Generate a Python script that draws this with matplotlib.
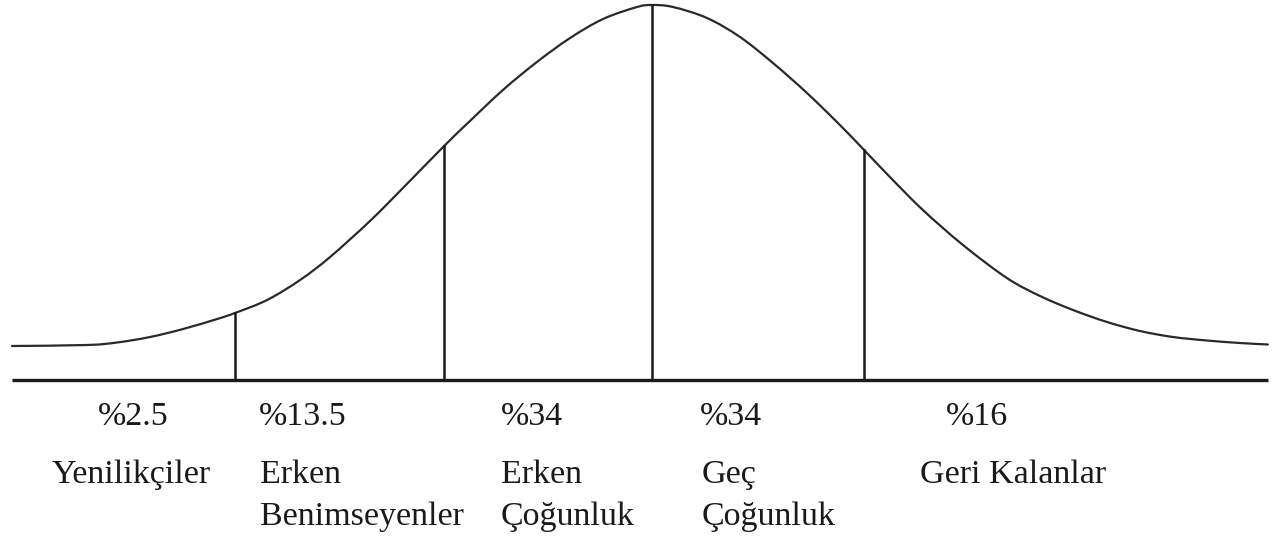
"""Diffusion of innovations bell curve (Rogers adopter categories), Turkish labels."""
import numpy as np
import matplotlib
matplotlib.use("Agg")
import matplotlib.pyplot as plt
from matplotlib.path import Path
from matplotlib.patches import PathPatch

# curve: x in std-devs from the centre, y = height above the baseline
curve_x = [-3.048, -2.690, -2.548, -2.390, -2.233, -2.071, -1.986, -1.833, -1.676, -1.533,
           -1.343, -1.186, -0.990, -0.867, -0.710, -0.548, -0.390, -0.233, -0.071, 0.000,
           0.100, 0.262, 0.419, 0.576, 0.738, 0.895, 1.010, 1.133, 1.290, 1.481,
           1.690, 1.848, 2.005, 2.167, 2.324, 2.481, 2.643, 2.800, 2.933]
curve_y = [34, 35, 37.5, 43, 51, 61, 67, 80, 100, 123,
           159, 192, 234, 259, 290, 318, 342, 361, 373, 375,
           373, 362, 343, 317, 287, 255, 230, 203, 170, 135,
           102, 84, 70, 58, 49, 43, 39.5, 37, 35.5]

divider_x = [-1.986, -0.990, 0.000, 1.010]
divider_top = [67, 234, 375, 230]

pct_labels = ["%2.5", "%13.5", "%34", "%34", "%16"]
pct_x = [-2.64, -1.87, -0.72, 0.23, 1.40]
group_labels = ["Yenilikçiler", "Erken\nBenimseyenler", "Erken\nÇoğunluk", "Geç\nÇoğunluk", "Geri Kalanlar"]
group_x = [-2.857, -1.867, -0.72, 0.238, 1.276]

INK = "#1a1a1a"
FONT = "Liberation Serif"
FS = 24.5


def smooth_path(xs, ys):
    # Catmull-Rom through the read points, expressed as cubic Beziers
    p = np.column_stack([xs, ys]).astype(float)
    ext = np.vstack([p[0], p, p[-1]])
    verts, codes = [p[0]], [Path.MOVETO]
    for i in range(1, len(ext) - 2):
        c1 = ext[i] + (ext[i + 1] - ext[i - 1]) / 6
        c2 = ext[i + 1] - (ext[i + 2] - ext[i]) / 6
        verts += [c1, c2, ext[i + 1]]
        codes += [Path.CURVE4] * 3
    return Path(verts, codes)


fig = plt.figure(figsize=(12.79, 5.42), dpi=100)
ax = fig.add_axes([0, 0, 1, 1])
ax.set_xlim(-3.105, 2.986)
ax.set_ylim(-162, 380)
ax.axis("off")

ax.add_patch(PathPatch(smooth_path(curve_x, curve_y), fill=False, edgecolor="#2a2a2a",
                       lw=1.6, capstyle="round"))
ax.plot([curve_x[0], curve_x[-1]], [0, 0], color=INK, lw=2.4, solid_capstyle="butt")
for x, top in zip(divider_x, divider_top):
    ax.plot([x, x], [0, top], color=INK, lw=1.8)

for x, s in zip(pct_x, pct_labels):
    ax.text(x, -45, s, ha="left", va="baseline", fontsize=FS, family=FONT, color=INK)
for x, s in zip(group_x, group_labels):
    for k, line in enumerate(s.split("\n")):
        ax.text(x, -103 - 42 * k, line, ha="left", va="baseline", fontsize=FS,
                family=FONT, color=INK)

fig.savefig("out.png", dpi=100)
